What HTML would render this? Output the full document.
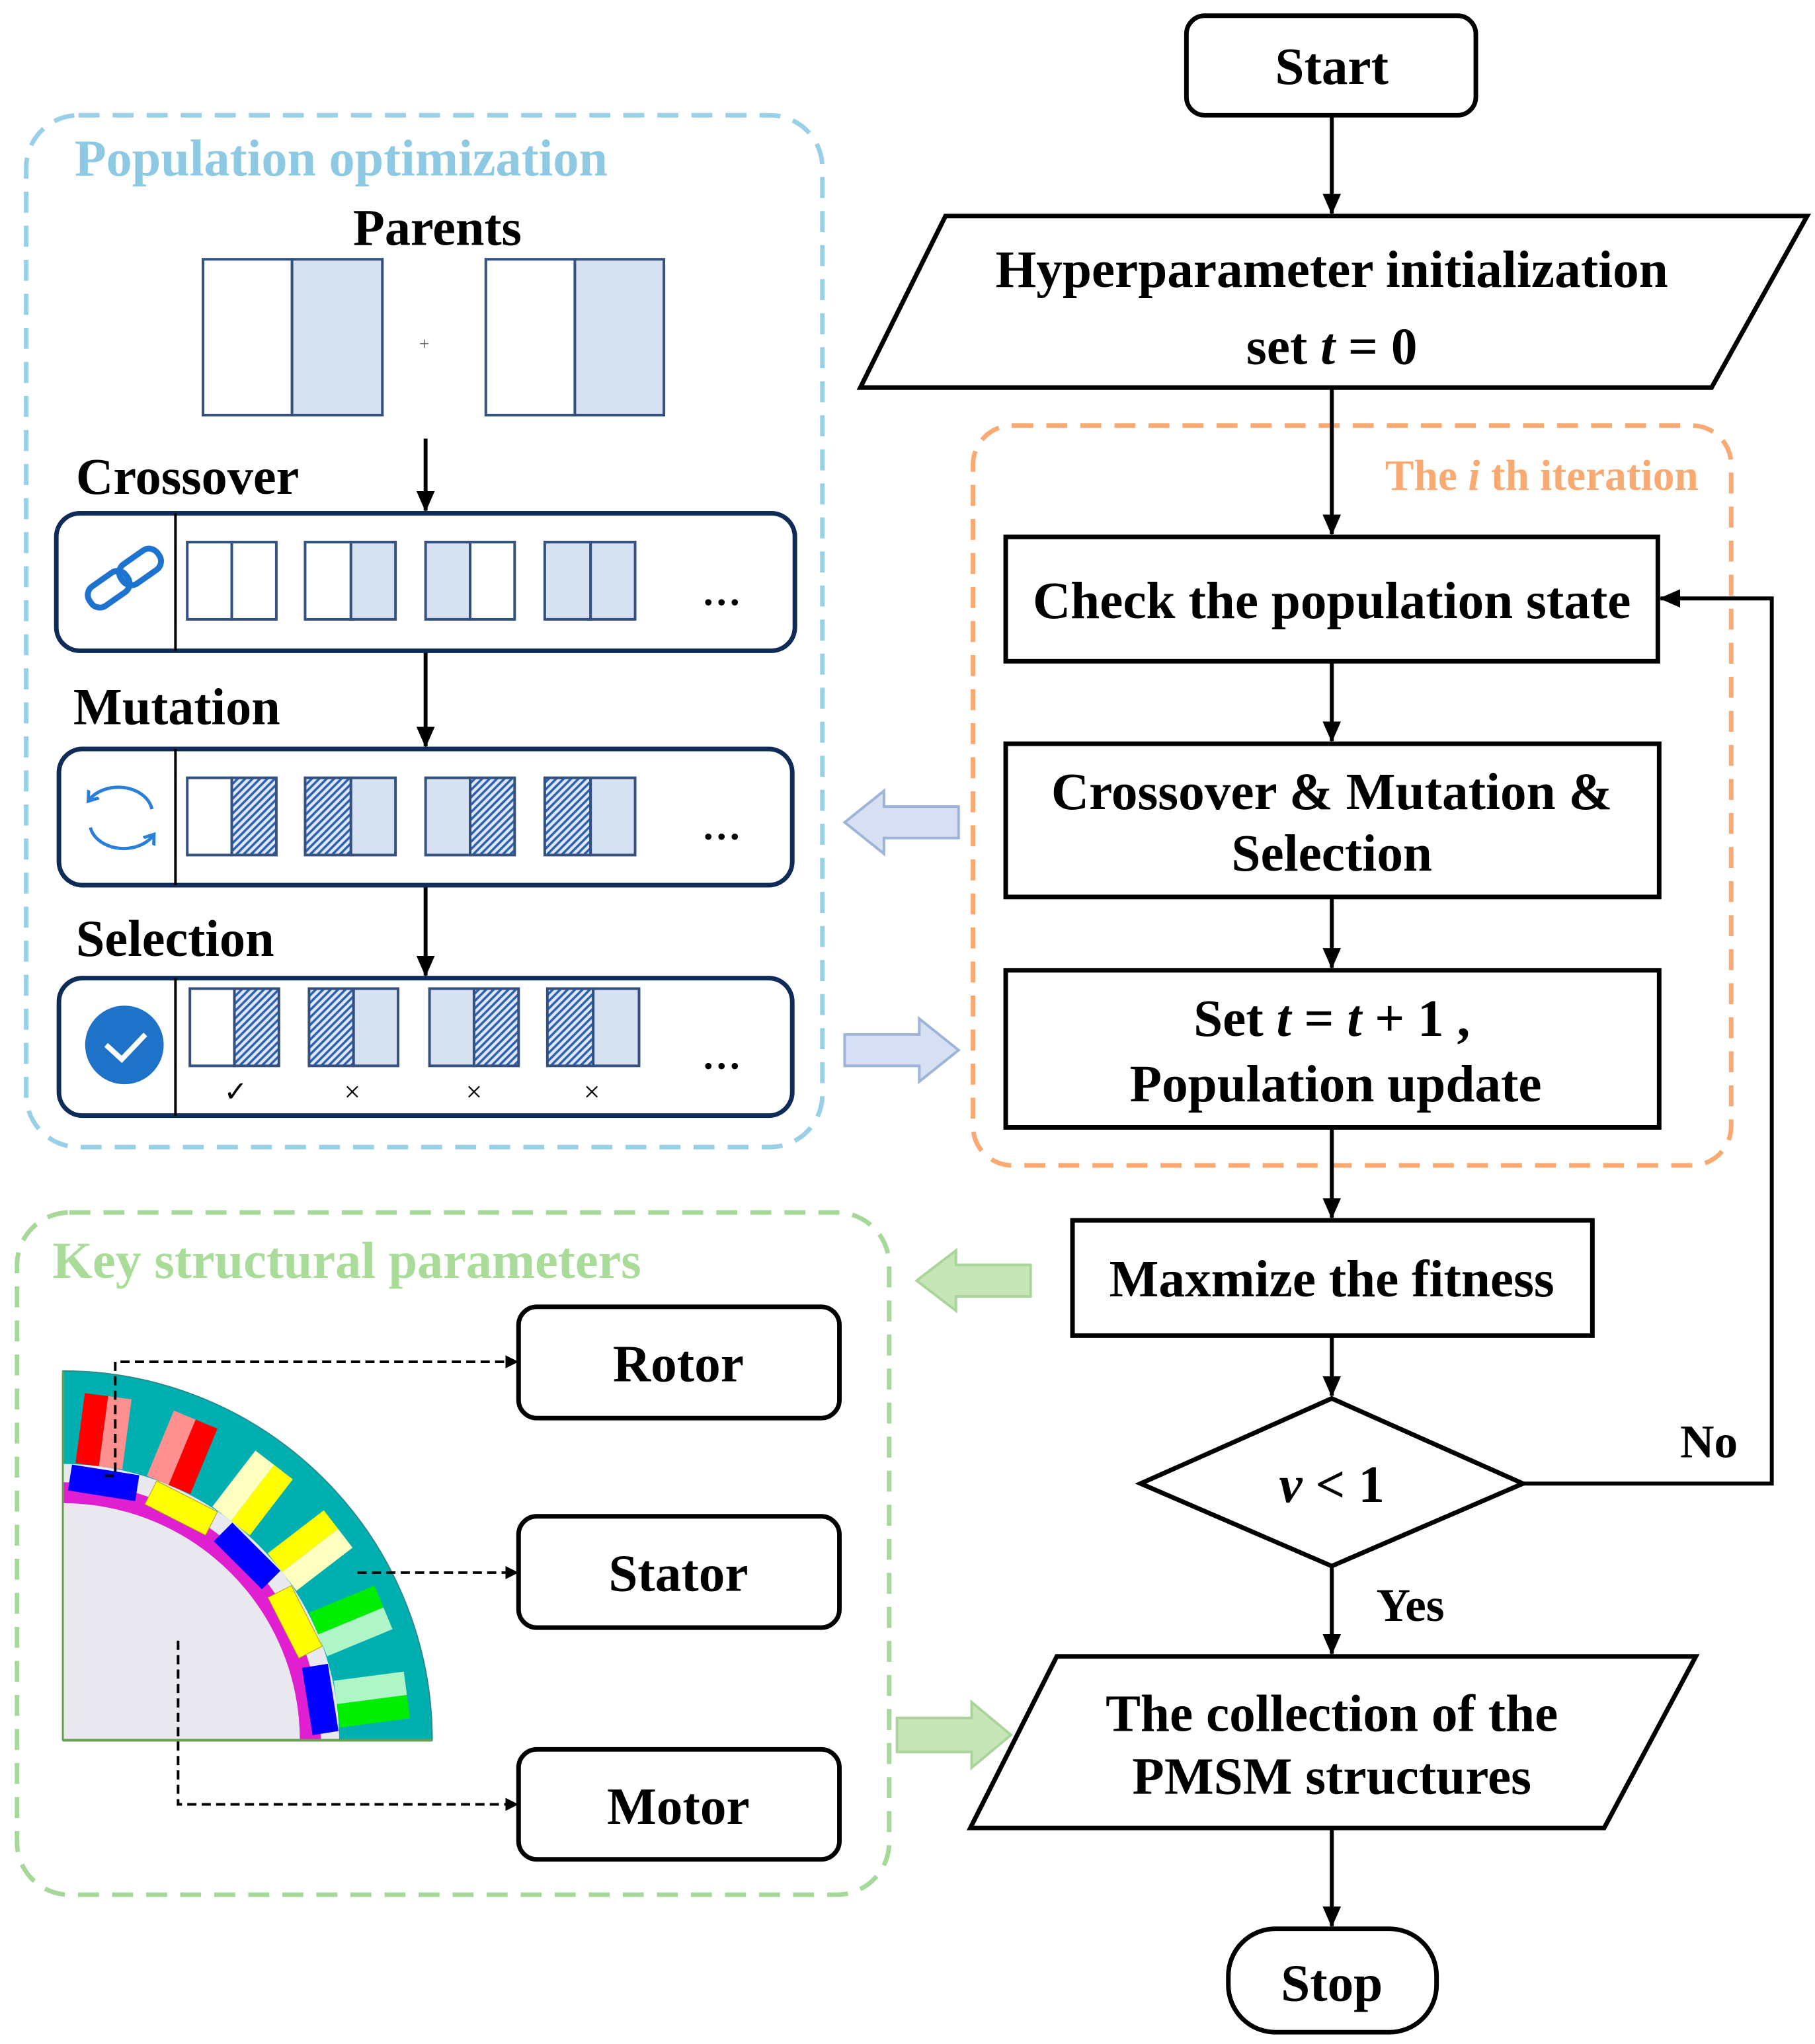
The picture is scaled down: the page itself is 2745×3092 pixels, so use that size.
<!DOCTYPE html>
<html><head><meta charset="utf-8"><style>
html,body{margin:0;padding:0;background:#fff;}
svg{display:block;}
text{font-family:"Liberation Serif",serif;font-weight:bold;}
</style></head><body>
<svg width="2745" height="3092" viewBox="0 0 1386 1561" preserveAspectRatio="none" xmlns="http://www.w3.org/2000/svg">
<defs>
<marker id="ah" markerWidth="10" markerHeight="10" refX="9" refY="5" orient="auto" markerUnits="userSpaceOnUse"><path d="M0,0 L10,5 L0,10 z" fill="#000"/></marker>
<marker id="ah2" markerWidth="16" markerHeight="14" refX="15" refY="7" orient="auto" markerUnits="userSpaceOnUse"><path d="M0,0 L16,7 L0,14 z" fill="#000"/></marker>
<marker id="ah3" markerWidth="12" markerHeight="12" refX="6" refY="6" orient="auto" markerUnits="userSpaceOnUse"><path d="M0,1 L7,6 L0,11" fill="none" stroke="#2a7fd8" stroke-width="2.5"/></marker>
<pattern id="hatch" width="4" height="4" patternUnits="userSpaceOnUse" patternTransform="rotate(45)"><rect width="4" height="4" fill="#dfe8f6"/><rect width="1.8" height="4" fill="#2e62b0"/></pattern>
</defs>
<rect width="1386" height="1561" fill="#fff"/>

<!-- Right flowchart -->
<g stroke="#000" stroke-width="3.5" fill="#fff">
<rect x="906" y="12" width="221" height="76" rx="14"/>
<polygon points="722,165 1380,165 1307,296 657,296"/>
<rect x="768" y="410" width="498" height="95"/>
<rect x="768" y="568" width="499" height="117"/>
<rect x="768" y="741" width="499" height="120"/>
<rect x="819" y="932" width="397" height="88"/>
<polygon points="871,1133 1017,1068 1163,1133 1017,1196"/>
<polygon points="807,1265 1295,1265 1225,1396 741,1396"/>
<rect x="938" y="1473" width="159" height="79" rx="36"/>
</g>
<rect x="743" y="325" width="579" height="565" rx="30" fill="none" stroke="#F8AA72" stroke-width="3.5" stroke-dasharray="16,10"/>
<g stroke="#000" stroke-width="3" fill="none" marker-end="url(#ah2)">
<line x1="1017" y1="88" x2="1017" y2="163"/>
<line x1="1017" y1="296" x2="1017" y2="408"/>
<line x1="1017" y1="505" x2="1017" y2="566"/>
<line x1="1017" y1="685" x2="1017" y2="739"/>
<line x1="1017" y1="861" x2="1017" y2="930"/>
<line x1="1017" y1="1020" x2="1017" y2="1066"/>
<line x1="1017" y1="1196" x2="1017" y2="1263"/>
<line x1="1017" y1="1396" x2="1017" y2="1471"/>
<polyline points="1163,1133 1353,1133 1353,457 1268,457"/>
</g>
<g font-size="40" text-anchor="middle" fill="#000">
<text x="1017" y="64">Start</text>
<text x="1017" y="219">Hyperparameter initialization</text>
<text x="1017" y="278">set <tspan font-style="italic">t</tspan> = 0</text>
<text x="1017" y="472">Check the population state</text>
<text x="1017" y="618">Crossover &amp; Mutation &amp;</text>
<text x="1017" y="665">Selection</text>
<text x="1017" y="791">Set <tspan font-style="italic">t</tspan> = <tspan font-style="italic">t</tspan> + 1 ,</text>
<text x="1020" y="841">Population update</text>
<text x="1017" y="990">Maxmize the fitness</text>
<text x="1017" y="1147"><tspan font-style="italic">v</tspan> &lt; 1</text>
<text x="1017" y="1322">The collection of the</text>
<text x="1017" y="1370">PMSM structures</text>
<text x="1017" y="1528">Stop</text>
<text x="1305" y="1113" font-size="36">No</text>
<text x="1077" y="1238" font-size="36">Yes</text>
</g>
<text x="1297" y="374" font-size="33" text-anchor="end" fill="#F8AA72">The <tspan font-style="italic">i</tspan> th iteration</text>

<!-- Block arrows -->
<g stroke="#9db3d8" stroke-width="2" fill="#d6e0f2">
<polygon points="645,628 675,604 675,616 732,616 732,640 675,640 675,652"/>
<polygon points="732,802 702,778 702,790 645,790 645,814 702,814 702,826"/>
</g>
<g stroke="#a9d59a" stroke-width="2" fill="#c6e5b8">
<polygon points="700,978 730,955 730,966 787,966 787,990 730,990 730,1001"/>
<polygon points="772,1325 742,1300 742,1312 685,1312 685,1338 742,1338 742,1350"/>
</g>

<!-- Population optimization -->
<rect x="20" y="88" width="608" height="788" rx="40" fill="none" stroke="#9ACFE8" stroke-width="3.5" stroke-dasharray="16,10"/>
<text x="57" y="134" font-size="39.5" fill="#8EC9E3">Population optimization</text>
<text x="334" y="187" font-size="39.5" text-anchor="middle">Parents</text>
<g stroke="#34507e" stroke-width="2">
<rect x="155" y="198" width="68" height="119" fill="#fff"/><rect x="223" y="198" width="69" height="119" fill="#d6e1f1"/>
<rect x="371" y="198" width="68" height="119" fill="#fff"/><rect x="439" y="198" width="68" height="119" fill="#d6e1f1"/>
</g>
<text x="324" y="267" font-size="14" text-anchor="middle" fill="#555" style="font-weight:normal">+</text>
<text x="58" y="377" font-size="39.5">Crossover</text>
<text x="56" y="553" font-size="39.5">Mutation</text>
<text x="58" y="730" font-size="39.5">Selection</text>
<g stroke="#000" stroke-width="3" marker-end="url(#ah2)">
<line x1="325" y1="335" x2="325" y2="390"/>
<line x1="325" y1="497" x2="325" y2="570"/>
<line x1="325" y1="676" x2="325" y2="745"/>
</g>
<g stroke="#0f2b57" stroke-width="3.5" fill="none">
<rect x="43" y="392" width="564" height="105" rx="18"/>
<rect x="45" y="572" width="560" height="104" rx="18"/>
<rect x="45" y="747" width="560" height="105" rx="18"/>
</g>
<g stroke="#000" stroke-width="2">
<line x1="134" y1="392" x2="134" y2="497"/>
<line x1="134" y1="572" x2="134" y2="676"/>
<line x1="134" y1="747" x2="134" y2="852"/>
</g>
<g stroke="#34507e" stroke-width="2">
<rect x="143" y="414" width="34" height="59" fill="#fff"/><rect x="177" y="414" width="34" height="59" fill="#fff"/>
<rect x="233" y="414" width="35" height="59" fill="#fff"/><rect x="268" y="414" width="34" height="59" fill="#d6e1f1"/>
<rect x="325" y="414" width="34" height="59" fill="#d6e1f1"/><rect x="359" y="414" width="34" height="59" fill="#fff"/>
<rect x="416" y="414" width="35" height="59" fill="#d6e1f1"/><rect x="451" y="414" width="34" height="59" fill="#d6e1f1"/>
<rect x="143" y="594" width="34" height="59" fill="#fff"/><rect x="177" y="594" width="34" height="59" fill="url(#hatch)"/>
<rect x="233" y="594" width="35" height="59" fill="url(#hatch)"/><rect x="268" y="594" width="34" height="59" fill="#d6e1f1"/>
<rect x="325" y="594" width="34" height="59" fill="#d6e1f1"/><rect x="359" y="594" width="34" height="59" fill="url(#hatch)"/>
<rect x="416" y="594" width="35" height="59" fill="url(#hatch)"/><rect x="451" y="594" width="34" height="59" fill="#d6e1f1"/>
<rect x="145" y="755" width="34" height="59" fill="#fff"/><rect x="179" y="755" width="34" height="59" fill="url(#hatch)"/>
<rect x="236" y="755" width="34" height="59" fill="url(#hatch)"/><rect x="270" y="755" width="34" height="59" fill="#d6e1f1"/>
<rect x="328" y="755" width="34" height="59" fill="#d6e1f1"/><rect x="362" y="755" width="34" height="59" fill="url(#hatch)"/>
<rect x="418" y="755" width="35" height="59" fill="url(#hatch)"/><rect x="453" y="755" width="35" height="59" fill="#d6e1f1"/>
</g>
<g font-size="30" text-anchor="middle">
<text x="551" y="462">…</text><text x="551" y="641">…</text><text x="551" y="816">…</text>
</g>
<g font-size="22" text-anchor="middle">
<text x="180" y="841" style="font-weight:normal">✓</text>
<text x="269" y="841" style="font-weight:normal">×</text>
<text x="362" y="841" style="font-weight:normal">×</text>
<text x="452" y="841" style="font-weight:normal">×</text>
</g>
<!-- icons -->
<g fill="none" stroke="#1e73d0" stroke-width="4.5">
<rect x="66" y="441" width="34" height="18" rx="8" transform="rotate(-35 83 450)"/>
<rect x="90" y="424" width="34" height="18" rx="8" transform="rotate(-35 107 433)"/>
</g>
<g fill="none" stroke="#2a7fd8" stroke-width="2.5">
<path d="M116,618 A26,20 0 0 0 68,611" marker-end="url(#ah3)"/>
<path d="M69,632 A26,20 0 0 0 117,638" marker-end="url(#ah3)"/>
</g>
<circle cx="95" cy="798" r="30" fill="#1e73c8"/>
<polyline points="81,798 93,809 111,790" fill="none" stroke="#fff" stroke-width="4"/>

<!-- Key structural parameters -->
<rect x="13" y="926" width="666" height="521" rx="40" fill="none" stroke="#A6D89A" stroke-width="3.5" stroke-dasharray="16,10"/>
<text x="40" y="976" font-size="39.5" fill="#A8DC98">Key structural parameters</text>
<g stroke="#000" stroke-width="3.5" fill="#fff">
<rect x="396" y="998" width="245" height="85" rx="14"/>
<rect x="396" y="1158" width="245" height="85" rx="14"/>
<rect x="396" y="1336" width="245" height="84" rx="14"/>
</g>
<g font-size="40" text-anchor="middle">
<text x="518" y="1055">Rotor</text>
<text x="518" y="1215">Stator</text>
<text x="518" y="1393">Motor</text>
</g>

<!-- Motor drawing -->
<g transform="translate(48,1329)">
<path d="M0,0 L0,-282 A282,282 0 0 1 282,0 Z" fill="#00b0b0" stroke="#2a8a8a" stroke-width="1"/>
<path d="M0,0 L0,-211 A211,211 0 0 1 211,0 Z" fill="#e8e8ee"/>
<path d="M0,0 L0,-197 A197,197 0 0 1 197,0 Z" fill="#e020d0"/>
<path d="M0,0 L0,-181 A181,181 0 0 1 181,0 Z" fill="#e8e8ee"/>
<g transform="rotate(7.5)"><rect x="-18" y="-265" width="18" height="54" fill="#ff0000"/><rect x="0" y="-265" width="18" height="54" fill="#ff9090"/></g>
<g transform="rotate(22.5)"><rect x="-18" y="-265" width="18" height="54" fill="#ff9090"/><rect x="0" y="-265" width="18" height="54" fill="#ff0000"/></g>
<g transform="rotate(37.5)"><rect x="-18" y="-265" width="18" height="54" fill="#ffffc0"/><rect x="0" y="-265" width="18" height="54" fill="#ffff00"/></g>
<g transform="rotate(52.5)"><rect x="-18" y="-265" width="18" height="54" fill="#ffff00"/><rect x="0" y="-265" width="18" height="54" fill="#ffffc0"/></g>
<g transform="rotate(67.5)"><rect x="-18" y="-265" width="18" height="54" fill="#00ee00"/><rect x="0" y="-265" width="18" height="54" fill="#b0f5c8"/></g>
<g transform="rotate(82.5)"><rect x="-18" y="-265" width="18" height="54" fill="#b0f5c8"/><rect x="0" y="-265" width="18" height="54" fill="#00ee00"/></g>
<g transform="rotate(9)"><rect x="-26" y="-209" width="52" height="20" fill="#0000ff"/></g>
<g transform="rotate(27)"><rect x="-26" y="-209" width="52" height="20" fill="#ffff00" stroke="#b0a000" stroke-width="0.5"/></g>
<g transform="rotate(45)"><rect x="-26" y="-209" width="52" height="20" fill="#0000ff"/></g>
<g transform="rotate(63)"><rect x="-26" y="-209" width="52" height="20" fill="#ffff00" stroke="#b0a000" stroke-width="0.5"/></g>
<g transform="rotate(81)"><rect x="-26" y="-209" width="52" height="20" fill="#0000ff"/></g>
<line x1="0" y1="0" x2="282" y2="0" stroke="#6aa050" stroke-width="2"/>
<line x1="0" y1="0" x2="0" y2="-282" stroke="#6aa050" stroke-width="1.5"/>
</g>
<g stroke="#000" stroke-width="2" stroke-dasharray="7,4" fill="none" marker-end="url(#ah)">
<polyline points="80,1127 88,1127 88,1040 395,1040"/>
<polyline points="273,1201 395,1201"/>
<polyline points="136,1253 136,1378 395,1378"/>
</g>
</svg>
</body></html>
